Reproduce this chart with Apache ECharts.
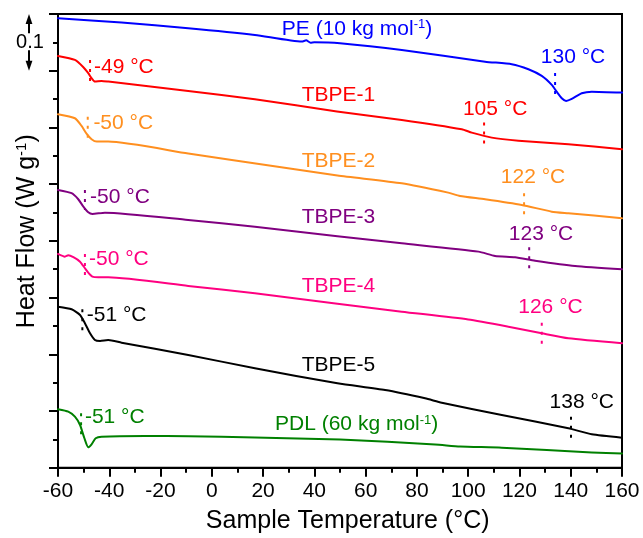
<!DOCTYPE html>
<html><head><meta charset="utf-8">
<script src="https://cdn.jsdelivr.net/npm/echarts@6/dist/echarts.min.js"></script>
<style>html,body{margin:0;padding:0;background:#fff}#c{width:643px;height:538px}</style>
</head><body><div id="c"></div>
<script>
// ---- data: [temperature °C, heat flow W/g (curves offset vertically)] ----
const PE = [[-60,0.7926],[-35.2,0.7848],[-9.2,0.775],[16.8,0.7631],[35.1,0.7513],[36.8,0.7535],[38.5,0.7495],[40,0.7502],[50,0.7485],[74.1,0.7367],[106.6,0.716],[117,0.7115],[123.5,0.7026],[128.7,0.6908],[132.6,0.675],[134.5,0.6631],[136.5,0.6515],[138.2,0.6467],[140.4,0.6503],[144.3,0.6603],[148.2,0.6631],[160,0.6614]];
const TBPE1 = [[-60,0.7261],[-53.4,0.719],[-50.1,0.7062],[-48.2,0.6956],[-46.9,0.6868],[-45.6,0.6808],[-43,0.682],[-40.4,0.6808],[-9.2,0.6644],[16.8,0.6497],[48.8,0.6282],[74.1,0.6132],[97.5,0.5968],[101.4,0.5908],[109.2,0.582],[119.6,0.5767],[139.1,0.5704],[160,0.5616]];
const TBPE2 = [[-60,0.6233],[-53.4,0.6162],[-50.8,0.6026],[-48.8,0.5885],[-46.9,0.5792],[-44.9,0.575],[-40.4,0.575],[-9.2,0.5541],[7.8,0.5427],[49,0.5153],[74.1,0.5016],[92.2,0.485],[96.8,0.4792],[106.6,0.4734],[120.9,0.4633],[132.6,0.4515],[139.1,0.4487],[160,0.4399]];
const TBPE3 = [[-60,0.4898],[-54.7,0.484],[-52.1,0.4734],[-50.1,0.4603],[-48.2,0.4504],[-46.6,0.4474],[-41.7,0.4497],[-9.2,0.4369],[16.8,0.425],[49,0.4081],[74.1,0.3958],[104,0.381],[110.5,0.3734],[118.3,0.3711],[126.1,0.3651],[141.7,0.3557],[160,0.3499]];
const TBPE4 = [[-60,0.3769],[-57.3,0.3721],[-56,0.3746],[-54,0.3711],[-51.4,0.3633],[-49.5,0.3517],[-48.2,0.3439],[-46.6,0.3369],[-44.3,0.3358],[-40.4,0.3358],[-9.2,0.3205],[16.8,0.3076],[49,0.2892],[74.1,0.2751],[100,0.2614],[115.7,0.2487],[128.7,0.237],[139.1,0.2282],[160,0.2194]];
const TBPE5 = [[-60,0.284],[-54.7,0.2794],[-51.4,0.2693],[-49.5,0.2547],[-47.5,0.237],[-45.6,0.2252],[-43.6,0.2235],[-40.4,0.2252],[-35.2,0.2205],[-9.2,0.1988],[16.8,0.1753],[49,0.1489],[67.6,0.137],[83.2,0.1224],[89.7,0.1146],[113.1,0.0929],[139.1,0.0695],[148.2,0.0589],[160,0.0529]];
const PDL = [[-60,0.103],[-56,0.0988],[-53.4,0.09],[-51.4,0.0753],[-49.7,0.0519],[-48.2,0.036],[-46.9,0.0413],[-45.3,0.0519],[-43,0.0547],[-26.1,0.0559],[-9.2,0.0554],[16.8,0.0533],[50,0.0497],[87.1,0.0409],[96.8,0.0374],[113.1,0.0353],[148.2,0.0268],[160,0.025]];

const SERIES_NAMES = ['PE','TBPE-1','TBPE-2','TBPE-3','TBPE-4','TBPE-5','PDL'];
const SERIES_DATA = [PE, TBPE1, TBPE2, TBPE3, TBPE4, TBPE5, PDL];
const COLORS = ['#0000FF','#FF0000','#FF8F1F','#800080','#FF0080','#000000','#008000'];

// transition markers: [series index, temperature, top value, bottom value]
const MARKERS = [[0,133.9,0.6961,0.6538],[1,-47.5,0.719,0.6767],[1,106.2,0.6085,0.5691],[2,-48.4,0.619,0.578],[2,121.8,0.484,0.4427],[3,-49.5,0.4898,0.4545],[3,123.8,0.3887,0.3487],[4,-49.5,0.3769,0.3369],[4,128.7,0.2557,0.2164],[5,-50.5,0.2794,0.237],[5,140.1,0.0899,0.0489],[6,-51,0.0959,0.0577]];

// annotations: [series index, text, temperature, value, align]
const LABELS = [
 [0,'{a|PE (10 kg mol}{s|-1}{a|)}',27.3,0.7737,'left'],
 [0,'130 °C',140.9,0.7243,'center'],
 [1,'-49 °C',-45.96,0.7062,'left'],
 [1,'TBPE-1',35.06,0.6573,'left'],
 [1,'105 °C',110.5,0.6326,'center'],
 [2,'-50 °C',-46.2,0.6074,'left'],
 [2,'TBPE-2',35.06,0.5409,'left'],
 [2,'122 °C',125.3,0.5127,'center'],
 [3,'-50 °C',-47.5,0.4769,'left'],
 [3,'TBPE-3',35.06,0.4422,'left'],
 [3,'123 °C',128.4,0.4122,'center'],
 [4,'-50 °C',-47.9,0.3681,'left'],
 [4,'TBPE-4',35.06,0.3205,'left'],
 [4,'126 °C',132.1,0.2834,'center'],
 [5,'-51 °C',-48.8,0.2693,'left'],
 [5,'TBPE-5',35.06,0.1811,'left'],
 [5,'138 °C',144.3,0.1159,'center'],
 [6,'-51 °C',-49.5,0.0899,'left'],
 [6,'{a|PDL (60 kg mol}{s|-1}{a|)}',24.65,0.0771,'left']
];
const SCALE_BAR = [0.8, 0.7]; // 0.1 W/g
const X_TITLE = 'Sample Temperature (°C)';
const Y_TITLE = '{a|Heat Flow (W g}{s|-1}{a|)}';

const FONT = '"Liberation Sans", Arial, sans-serif';
const chart = echarts.init(document.getElementById('c'), null, {renderer:'canvas'});

const series = SERIES_DATA.map((d,i)=>({
  type:'line', name:SERIES_NAMES[i], data:d, showSymbol:false, symbol:'none',
  smooth:0.2,
  lineStyle:{color:COLORS[i], width:2, join:'round', cap:'round'}, itemStyle:{color:COLORS[i]}, z:3, silent:true
}));
MARKERS.forEach(m=>{
  series.push({type:'line', data:[[m[1],m[2]],[m[1],m[3]]], showSymbol:false, symbol:'none',
    lineStyle:{color:COLORS[m[0]], width:2, type:[3,6]}, z:4, silent:true});
});

chart.setOption({
  animation:false,
  grid:{left:58, top:14, width:564, height:453.7, show:true, borderColor:'#000', borderWidth:2, backgroundColor:'transparent'},
  xAxis:{type:'value', min:-60, max:160, interval:20,
    axisLine:{onZero:false, lineStyle:{color:'#000', width:2}},
    axisTick:{length:9, lineStyle:{color:'#000', width:2}},
    minorTick:{show:true, splitNumber:2, length:5, lineStyle:{color:'#000', width:2}},
    axisLabel:{fontSize:21, color:'#000', fontFamily:FONT, margin:13},
    splitLine:{show:false}},
  yAxis:{type:'value', min:0, max:0.8, interval:0.1,
    axisLine:{onZero:false, lineStyle:{color:'#000', width:2}},
    axisTick:{length:9, lineStyle:{color:'#000', width:2}},
    minorTick:{show:true, splitNumber:2, length:5, lineStyle:{color:'#000', width:2}},
    axisLabel:{show:false}, splitLine:{show:false}},
  series:series
});

const g = [];
LABELS.forEach(l=>{
  const p = chart.convertToPixel({gridIndex:0},[l[2],l[3]]);
  g.push({type:'text', x:p[0], y:p[1], z:10, silent:true,
    style:{text:l[1], fill:COLORS[l[0]], fontSize:21, fontFamily:FONT, align:l[4], verticalAlign:'middle',
      rich:{a:{fontSize:21, fontFamily:FONT, fill:COLORS[l[0]]}, s:{fontSize:13, fontFamily:FONT, fill:COLORS[l[0]], verticalAlign:'top'}}}});
});
// axis titles
const xc = chart.convertToPixel({gridIndex:0},[53,0]);
g.push({type:'text', x:xc[0], y:521, silent:true,
  style:{text:X_TITLE, fill:'#000', fontSize:25, fontFamily:FONT, align:'center', verticalAlign:'middle'}});
const yc = chart.convertToPixel({gridIndex:0},[-60,0.417]);
g.push({type:'text', x:27, y:yc[1], rotation:Math.PI/2, silent:true,
  style:{text:Y_TITLE, fill:'#000', fontSize:25, fontFamily:FONT, align:'center', verticalAlign:'middle',
    rich:{a:{fontSize:25, fontFamily:FONT, fill:'#000'}, s:{fontSize:15, fontFamily:FONT, fill:'#000', verticalAlign:'top'}}}});
// scale bar
const sTop = chart.convertToPixel({gridIndex:0},[-60,SCALE_BAR[0]])[1];
const sBot = chart.convertToPixel({gridIndex:0},[-60,SCALE_BAR[1]])[1];
const sx = 29, hh = 10, hw = 3.4, gapMid = (sTop+sBot)/2;
g.push({type:'polygon', shape:{points:[[sx,sTop],[sx-hw,sTop+hh],[sx+hw,sTop+hh]]}, style:{fill:'#000'}, silent:true});
g.push({type:'line', shape:{x1:sx,y1:sTop+hh-1,x2:sx,y2:gapMid-9}, style:{stroke:'#000', lineWidth:2}, silent:true});
g.push({type:'line', shape:{x1:sx,y1:gapMid+8,x2:sx,y2:sBot-hh+1}, style:{stroke:'#000', lineWidth:2}, silent:true});
g.push({type:'polygon', shape:{points:[[sx,sBot],[sx-hw,sBot-hh],[sx+hw,sBot-hh]]}, style:{fill:'#000'}, silent:true});
g.push({type:'text', x:30, y:gapMid, silent:true,
  style:{text:'0.1', fill:'#000', fontSize:20, fontFamily:FONT, align:'center', verticalAlign:'middle'}});
chart.setOption({graphic:g});
</script></body></html>
